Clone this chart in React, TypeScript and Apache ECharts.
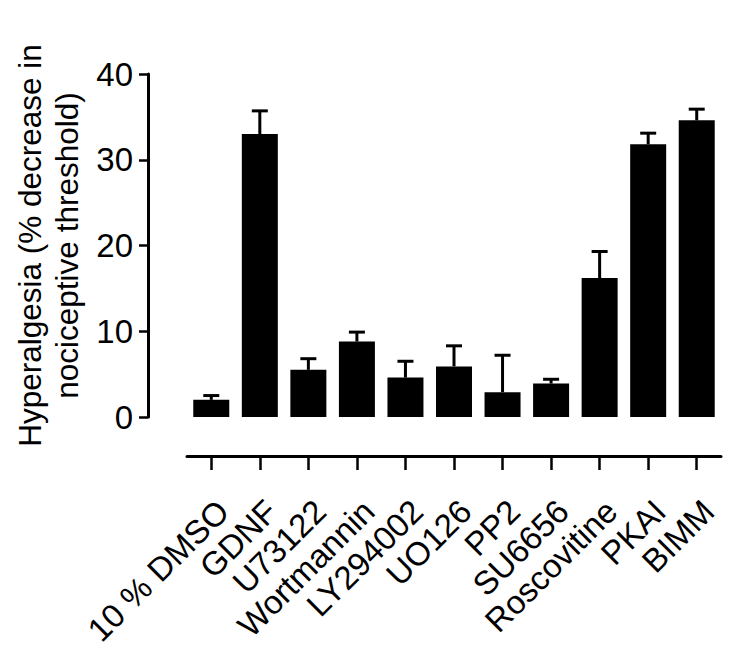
import React, { useEffect, useRef } from "react";
import * as echarts from "echarts";

const categories = [
  "10 % DMSO",
  "GDNF",
  "U73122",
  "Wortmannin",
  "LY294002",
  "UO126",
  "PP2",
  "SU6656",
  "Roscovitine",
  "PKAI",
  "BIMM",
];
const means = [2.0, 33.0, 5.5, 8.8, 4.6, 5.9, 2.9, 3.9, 16.2, 31.8, 34.6];
const sems = [0.5, 2.7, 1.3, 1.1, 1.9, 2.4, 4.3, 0.5, 3.1, 1.3, 1.3];
const yTicks = [0, 10, 20, 30, 40];

const FONT = "'Liberation Sans', Arial, Helvetica, sans-serif";

export default function App() {
  const ref = useRef<HTMLDivElement>(null);
  useEffect(() => {
    if (!ref.current) return;
    const chart = echarts.init(ref.current, null, { renderer: "svg" });
    const errData = means.map((m, i) => [i, m, m + sems[i]]);
    chart.setOption({
      animation: false,
      backgroundColor: "#ffffff",
      textStyle: { fontFamily: FONT, color: "#000" },
      grid: { left: 187, right: 29, top: 74, bottom: 240, containLabel: false },
      xAxis: {
        type: "category",
        data: categories,
        offset: 39,
        axisLine: { show: true, onZero: false, lineStyle: { color: "#000", width: 3 } },
        axisTick: { show: true, alignWithLabel: true, length: 14, lineStyle: { color: "#000", width: 2.5 } },
        axisLabel: {
          interval: 0,
          rotate: 45,
          margin: 38,
          fontSize: 33,
          color: "#000",
          fontFamily: FONT,
          verticalAlign: "top",
        },
        splitLine: { show: false },
      },
      yAxis: {
        type: "value",
        min: yTicks[0],
        max: yTicks[yTicks.length - 1],
        interval: 10,
        offset: 39,
        name: "Hyperalgesia (% decrease in\nnociceptive threshold)",
        nameLocation: "middle",
        nameRotate: 90,
        nameGap: 54,
        nameTextStyle: { fontSize: 31.5, lineHeight: 37, color: "#000", fontFamily: FONT },
        axisLine: { show: true, onZero: false, lineStyle: { color: "#000", width: 3 } },
        axisTick: { show: true, length: 9, lineStyle: { color: "#000", width: 2.5 } },
        axisLabel: { fontSize: 33, margin: 15, color: "#000", fontFamily: FONT },
        splitLine: { show: false },
      },
      series: [
        {
          type: "bar",
          data: means,
          barWidth: 36,
          itemStyle: { color: "#000" },
        },
        {
          type: "custom",
          data: errData,
          z: 3,
          renderItem: (params: any, api: any) => {
            const x = api.value(0);
            const base = api.coord([x, api.value(1)]);
            const top = api.coord([x, api.value(2)]);
            const half = 8;
            const style = { stroke: "#000", lineWidth: 3, fill: null };
            return {
              type: "group",
              children: [
                { type: "line", shape: { x1: base[0], y1: base[1], x2: top[0], y2: top[1] }, style },
                { type: "line", shape: { x1: top[0] - half, y1: top[1], x2: top[0] + half, y2: top[1] }, style },
              ],
            };
          },
        },
      ],
    });
    return () => chart.dispose();
  }, []);
  return (
    <div
      ref={ref}
      style={{ position: "fixed", left: 0, top: 0, width: 750, height: 657, background: "#fff" }}
    />
  );
}
